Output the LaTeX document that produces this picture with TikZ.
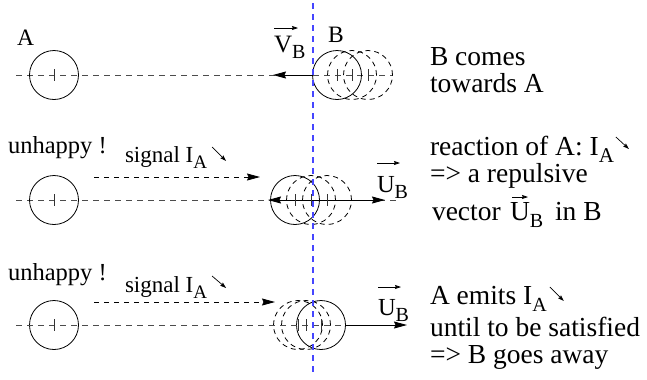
\documentclass[tikz,border=0pt]{standalone}
\usepackage{fontspec}
\setmainfont{Liberation Serif}
\usetikzlibrary{arrows.meta,calc}
\definecolor{axisblue}{RGB}{70,70,255}
\newcommand\fsz[1]{\fontsize{#1bp}{#1bp}\selectfont}
\newcommand\sub[2]{\raisebox{-0.27em}{\fsz{#1}#2}}
\tikzset{
  bcirc/.style={circle, draw, minimum size=49bp, inner sep=0pt, line width=0.8bp},
  dcirc/.style={bcirc, dash pattern=on 5bp off 4bp},
  axisline/.style={black!70, line width=0.9bp, dash pattern=on 6bp off 5bp},
  sigline/.style={black, line width=0.8bp, dash pattern=on 5bp off 5bp, -{Stealth[length=13bp,width=7bp,inset=1.5bp]}},
  bigarrow/.style={black, line width=0.9bp, -{Stealth[length=13bp,width=7bp,inset=1.5bp]}},
  vecarrow/.style={black, line width=0.7bp, -{Stealth[length=6bp,width=4bp,inset=0.8bp]}},
  tickst/.style={black!80, line width=0.8bp},
  blueline/.style={axisblue, line width=1.1bp, dash pattern=on 6bp off 5bp},
  txt/.style={anchor=base west, inner sep=0pt, outer sep=0pt},
  rtxt/.style={txt, font=\fsz{27.5}},
  ltxt/.style={txt, font=\fsz{24.5}},
}
\begin{document}
\begin{tikzpicture}[x=1bp, y=-1bp]
\useasboundingbox (0,0) rectangle (647,379);

% ---------- row 1 ----------
\coordinate (L1) at (16,75);
\coordinate (R1) at (393,75);
\draw[axisline] (L1) -- (R1);
\node[bcirc] (A1) at (54,75) {};
\node[bcirc] (B1) at (337,75) {};
\node[dcirc] (B1a) at (352,75) {};
\node[dcirc] (B1b) at (368,75) {};
\coordinate (V1) at (273,75);
\draw[bigarrow] (B1.west) -- (V1);
\node[ltxt, font=\fsz{23.5}] (lA) at (17,45) {A};
\node[ltxt, font=\fsz{23.5}] (lB) at (328,42) {B};
\node[ltxt, font=\fsz{25}] (lV) at (274,52) {V\sub{20}{B}};
\draw[vecarrow] ($(lV.base west)+(0,-24)$) -- ($(lV.base west)+(24,-24)$);
\node[rtxt] (t1a) at (430,65) {B comes};
\node[rtxt] (t1b) at (430,92) {towards A};

% ---------- row 2 ----------
\coordinate (L2) at (16,200);
\coordinate (R2) at (397,200);
\draw[axisline] (L2) -- (R2);
\node[bcirc] (A2) at (54,200) {};
\node[bcirc] (B2) at (295,200) {};
\node[dcirc] (B2a) at (311,200) {};
\node[dcirc] (B2b) at (327,200) {};
\coordinate (W2) at (268,200);
\coordinate (E2) at (385,200);
\draw[bigarrow] (B2.center) -- (W2);
\draw[bigarrow] (B2.center) -- (E2);
\coordinate (S2a) at (94,177);
\coordinate (S2b) at (260,177);
\draw[sigline] (S2a) -- (S2b);
\node[ltxt] (u2) at (8,153) {unhappy !};
\node[txt, font=\fsz{23}] (sg2) at (125,162) {signal I\sub{19}{A}};
\draw[vecarrow] ($(sg2.base east)+(5,-15)$) -- ($(sg2.base east)+(19,-1)$);
\node[txt, font=\fsz{24.5}] (U2) at (377,192) {U\sub{20}{B}};
\draw[vecarrow] ($(U2.base west)+(0,-29)$) -- ($(U2.base west)+(23,-29)$);
\node[rtxt] (r2a) at (430,155) {reaction of A: I\sub{21}{A}};
\draw[vecarrow] ($(r2a.base east)+(2,-18)$) -- ($(r2a.base east)+(15,-6)$);
\node[rtxt] (r2b) at (430,182) {=> a repulsive};
\node[rtxt] (r2c) at (432,220) {vector};
\node[rtxt] (r2u) at (510,220) {U\sub{20}{B}};
\draw[vecarrow] ($(r2u.base west)+(2,-23)$) -- ($(r2u.base west)+(18,-23)$);
\node[rtxt] (r2d) at (555,220) {in B};

% ---------- row 3 ----------
\node[bcirc] (A3) at (54,325) {};
\node[dcirc] (B3b) at (298,325) {};
\node[dcirc] (B3a) at (306,325) {};
\node[bcirc] (B3) at (321,325) {};
\coordinate (L3) at (16,325);
\draw[axisline] (L3) -- (B3.east);
\coordinate (E3) at (407,325);
\draw[bigarrow] (B3.east) -- (E3);
\coordinate (S3a) at (94,302);
\coordinate (S3b) at (275,302);
\draw[sigline] (S3a) -- (S3b);
\node[ltxt] (u3) at (8,280) {unhappy !};
\node[txt, font=\fsz{23}] (sg3) at (125,292) {signal I\sub{19}{A}};
\draw[vecarrow] ($(sg3.base east)+(5,-16)$) -- ($(sg3.base east)+(19,-4)$);
\node[txt, font=\fsz{24.5}] (U3) at (378,315) {U\sub{20}{B}};
\draw[vecarrow] ($(U3.base west)+(0,-28)$) -- ($(U3.base west)+(23,-28)$);
\node[rtxt] (r3a) at (430,304) {A emits I\sub{20}{A}};
\draw[vecarrow] ($(r3a.base east)+(3,-17)$) -- ($(r3a.base east)+(17,-3)$);
\node[rtxt] (r3b) at (430,336) {until to be satisfied};
\node[rtxt] (r3c) at (430,363) {=> B goes away};

% center ticks
\foreach \n in {A1,B1,B1a,B1b,A2,B2,B2a,B2b,A3,B3,B3a,B3b}
  \draw[tickst] ($(\n.center)+(0,-6)$) -- ($(\n.center)+(0,6)$);

% blue vertical line (drawn on top)
\coordinate (Top) at (313,3);
\coordinate (Bot) at (313,376);
\draw[blueline] (Top) -- (Bot);
\end{tikzpicture}
\end{document}
